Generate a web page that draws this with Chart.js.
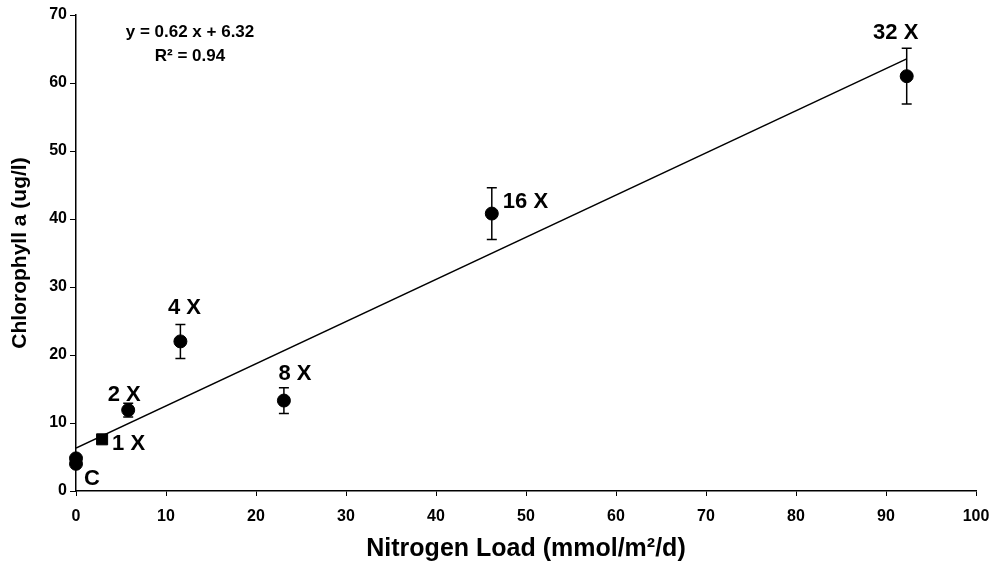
<!DOCTYPE html>
<html>
<head>
<meta charset="utf-8">
<script src="https://cdn.jsdelivr.net/npm/chart.js@4.4.1/dist/chart.umd.min.js"></script>
<style>
html,body{margin:0;padding:0;background:#fff;}
#wrap{width:992px;height:566px;position:relative;}
</style>
</head>
<body>
<div id="wrap"><canvas id="c" width="992" height="566"></canvas></div>
<script>
// ---- data ----
const pointLabels   = ['C', '', '1 X', '2 X', '4 X', '8 X', '16 X', '32 X'];
const nitrogenLoad  = [0, 0, 2.9, 5.8, 11.6, 23.1, 46.2, 92.3];
const chlorophyll   = [4.0, 4.8, 7.6, 11.9, 22.0, 13.3, 40.8, 61.0];
const errorValues   = [0, 0, 0.3, 1.0, 2.5, 1.9, 3.8, 4.1];
const trendX        = [0, 92.3];
const trendY        = [6.32, 63.55];
const xTicks        = [0, 10, 20, 30, 40, 50, 60, 70, 80, 90, 100];
const yTicks        = [0, 10, 20, 30, 40, 50, 60, 70];
const equationLines = ['y = 0.62 x + 6.32', 'R² = 0.94'];

const FONT = "'Liberation Sans', Arial, sans-serif";

// label offsets (style/position only)
const labelOffsets = [
  {dx: 16, dy: 13, align: 'center'},
  null,
  {dx: 10, dy: 3, align: 'left'},
  {dx: -4, dy: -17.5, align: 'center'},
  {dx: 4, dy: -35.5, align: 'center'},
  {dx: 11, dy: -29, align: 'center'},
  {dx: 11, dy: -14, align: 'left'},
  {dx: -11, dy: -45, align: 'center'}
];

const scatterData = nitrogenLoad.map((x, i) => ({x: x, y: chlorophyll[i]}));
const trendData = trendX.map((x, i) => ({x: x, y: trendY[i]}));

const overlayPlugin = {
  id: 'overlay',
  afterDatasetsDraw(chart) {
    const ctx = chart.ctx;
    const xs = chart.scales.x, ys = chart.scales.y;
    ctx.save();
    // error bars
    ctx.strokeStyle = '#000';
    ctx.lineWidth = 1.5;
    nitrogenLoad.forEach((x, i) => {
      const e = errorValues[i];
      if (!e) return;
      const px = xs.getPixelForValue(x);
      const pTop = ys.getPixelForValue(chlorophyll[i] + e);
      const pBot = ys.getPixelForValue(chlorophyll[i] - e);
      ctx.beginPath();
      ctx.moveTo(px, pTop); ctx.lineTo(px, pBot);
      ctx.moveTo(px - 5, pTop); ctx.lineTo(px + 5, pTop);
      ctx.moveTo(px - 5, pBot); ctx.lineTo(px + 5, pBot);
      ctx.stroke();
    });
    // point labels
    ctx.fillStyle = '#000';
    ctx.font = 'bold 22px ' + FONT;
    ctx.textBaseline = 'alphabetic';
    nitrogenLoad.forEach((x, i) => {
      const off = labelOffsets[i];
      if (!off || !pointLabels[i]) return;
      const px = xs.getPixelForValue(x);
      const py = ys.getPixelForValue(chlorophyll[i]);
      ctx.textAlign = off.align;
      ctx.fillText(pointLabels[i], px + off.dx, py + off.dy + 8);
    });
    // equation
    const ca = chart.chartArea;
    ctx.font = 'bold 17px ' + FONT;
    ctx.textAlign = 'center';
    ctx.fillText(equationLines[0], ca.left + 114, ca.top + 22);
    ctx.fillText(equationLines[1], ca.left + 114, ca.top + 46);
    ctx.restore();
  }
};

new Chart(document.getElementById('c'), {
  type: 'scatter',
  data: {
    datasets: [
      {
        type: 'line',
        data: trendData,
        borderColor: '#000',
        borderWidth: 1.5,
        pointRadius: 0,
        fill: false,
        tension: 0,
        order: 2
      },
      {
        data: scatterData,
        backgroundColor: '#000',
        borderColor: '#000',
        clip: false,
        pointStyle: ['circle', 'circle', 'rect', 'circle', 'circle', 'circle', 'circle', 'circle'],
        pointRadius: [6.5, 6.5, 7.8, 6.5, 6.5, 6.5, 6.5, 6.5],
        pointHoverRadius: 6.5,
        order: 1
      }
    ]
  },
  options: {
    responsive: false,
    animation: false,
    events: [],
    layout: {padding: {top: 15, right: 16, left: 0, bottom: 0}},
    plugins: {legend: {display: false}, tooltip: {enabled: false}},
    scales: {
      x: {
        type: 'linear',
        min: xTicks[0], max: xTicks[xTicks.length - 1],
        afterBuildTicks(s) { s.ticks = xTicks.map(v => ({value: v})); },
        afterFit(s) { s.height = 75; s.paddingRight = 0; s.paddingLeft = 0; },
        grid: {display: true, drawOnChartArea: false, drawTicks: true, tickLength: 5, color: '#000', lineWidth: 1},
        border: {display: true, color: '#000', width: 1.5},
        ticks: {color: '#000', font: {family: FONT, size: 16, weight: 'bold'}, padding: 11, maxRotation: 0},
        title: {display: true, text: 'Nitrogen Load (mmol/m²/d)', color: '#000', font: {family: FONT, size: 25, weight: 'bold'}, padding: {top: 0, bottom: 2}}
      },
      y: {
        type: 'linear',
        min: yTicks[0], max: yTicks[yTicks.length - 1],
        afterBuildTicks(s) { s.ticks = yTicks.map(v => ({value: v})); },
        afterFit(s) { s.width = 76; s.paddingTop = 0; s.paddingBottom = 0; },
        grid: {display: true, drawOnChartArea: false, drawTicks: true, tickLength: 6, color: '#000', lineWidth: 1},
        border: {display: true, color: '#000', width: 1.5},
        ticks: {color: '#000', font: {family: FONT, size: 16, weight: 'bold'}, padding: 3},
        title: {display: true, text: 'Chlorophyll a (ug/l)', color: '#000', font: {family: FONT, size: 21, weight: 'bold'}, padding: {top: 8, bottom: 0}}
      }
    }
  },
  plugins: [overlayPlugin]
});
</script>
</body>
</html>
